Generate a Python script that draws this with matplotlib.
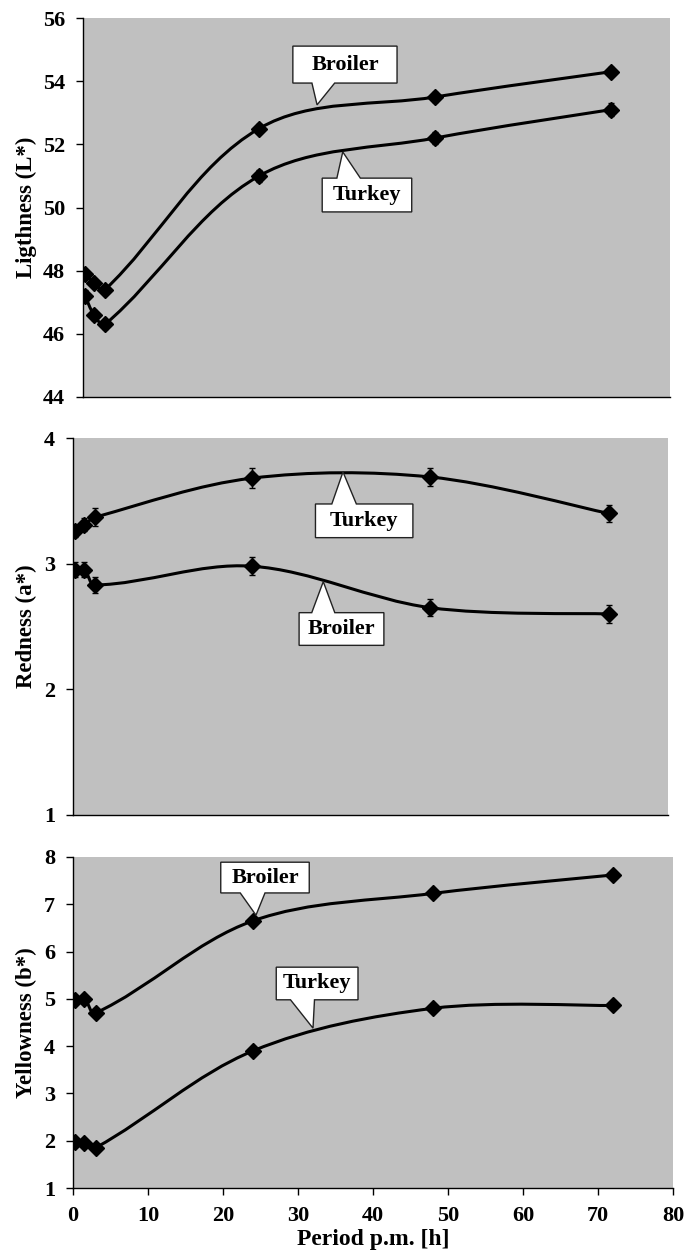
import numpy as np
import matplotlib
matplotlib.use("Agg")
import matplotlib.pyplot as plt
from matplotlib.path import Path
from matplotlib.patches import PathPatch, Polygon

plt.rcParams['font.family'] = ['Liberation Serif', 'DejaVu Serif']
plt.rcParams['font.weight'] = 'bold'

# ---- data ----
hours = [0.3, 1.5, 3, 24, 48, 72]

L_broiler = [47.9, 47.6, 47.4, 52.5, 53.5, 54.3]
L_broiler_err = [0.12, 0.12, 0.12, 0.15, 0.15, 0.15]
L_turkey = [47.2, 46.6, 46.3, 51.0, 52.2, 53.1]
L_turkey_err = [0.2, 0.15, 0.15, 0.2, 0.2, 0.2]

a_turkey = [3.26, 3.31, 3.37, 3.68, 3.69, 3.40]
a_turkey_err = [0.05, 0.05, 0.07, 0.08, 0.075, 0.07]
a_broiler = [2.95, 2.95, 2.83, 2.98, 2.65, 2.60]
a_broiler_err = [0.06, 0.06, 0.06, 0.07, 0.065, 0.07]

b_broiler = [4.98, 5.0, 4.70, 6.65, 7.23, 7.62]
b_broiler_err = [0.05, 0.05, 0.05, 0.05, 0.05, 0.05]
b_turkey = [1.98, 1.95, 1.85, 3.90, 4.80, 4.86]
b_turkey_err = [0.05, 0.05, 0.05, 0.05, 0.05, 0.05]

x_ticks = [0, 10, 20, 30, 40, 50, 60, 70, 80]
L_ticks = [44, 46, 48, 50, 52, 54, 56]
a_ticks = [1, 2, 3, 4]
b_ticks = [1, 2, 3, 4, 5, 6, 7, 8]

W, H = 696, 1251
fig = plt.figure(figsize=(W / 100, H / 100), dpi=100)


def px_axes(left, right, top, bottom):
    return fig.add_axes([left / W, 1 - bottom / H, (right - left) / W, (bottom - top) / H])


def smooth_line(ax, x, y):
    """Smoothed line drawn as cubic Bezier segments (chord-scaled Catmull-Rom tangents
    computed in screen proportions, so short segments do not loop)."""
    pos = ax.get_position()
    x0, x1 = ax.get_xlim()
    y0, y1 = ax.get_ylim()
    sx = pos.width * W / (x1 - x0)
    sy = pos.height * H / (y1 - y0)
    s = np.array([sx, sy])
    P = np.column_stack([x, y]).astype(float) * s
    n = len(P)
    tang = []
    for i in range(n):
        if i == 0:
            d = P[1] - P[0]
        elif i == n - 1:
            d = P[-1] - P[-2]
        else:
            d = P[i + 1] - P[i - 1]
        tang.append(d / np.linalg.norm(d))
    verts = [P[0]]
    codes = [Path.MOVETO]
    for i in range(n - 1):
        L = np.linalg.norm(P[i + 1] - P[i])
        k1 = L / 6.0 if i == 0 else L / 3.0
        k2 = L / 6.0 if i + 1 == n - 1 else L / 3.0
        c1 = P[i] + tang[i] * k1
        c2 = P[i + 1] - tang[i + 1] * k2
        verts += [c1, c2, P[i + 1]]
        codes += [Path.CURVE4] * 3
    verts = np.array(verts) / s
    ax.add_patch(PathPatch(Path(verts, codes), facecolor='none', edgecolor='black',
                           lw=2.2, zorder=3, capstyle='round', joinstyle='round'))


def series(ax, x, y, err):
    smooth_line(ax, x, y)
    ax.errorbar(x, y, yerr=err, fmt='none', ecolor='black', elinewidth=1.0,
                capsize=2.5, capthick=1.0, zorder=4)
    ax.plot(x, y, linestyle='none', marker='D', markersize=8.5, color='black', zorder=5)


def callout(ax, text, box, base, tip, fs=16):
    x0, x1, y0, y1 = box  # y0 bottom, y1 top
    bx0, bx1 = base
    tx, ty = tip
    if ty < y0:  # pointer down
        verts = [(x0, y1), (x1, y1), (x1, y0), (bx1, y0), (tx, ty), (bx0, y0), (x0, y0)]
    else:  # pointer up
        verts = [(x0, y0), (x1, y0), (x1, y1), (bx1, y1), (tx, ty), (bx0, y1), (x0, y1)]
    ax.add_patch(Polygon(verts, closed=True, facecolor='white', edgecolor='#222222',
                         lw=1.0, zorder=6))
    ax.text((x0 + x1) / 2, (y0 + y1) / 2, text, ha='center', va='center',
            fontsize=fs, fontweight='bold', zorder=7)


def style(ax, ylim, yticks, ylabel, show_x):
    ax.set_facecolor('#C0C0C0')
    ax.set_xlim(0, 80)
    ax.set_ylim(*ylim)
    ax.set_yticks(yticks)
    ax.set_yticklabels([str(t) for t in yticks])
    for s in ('top', 'right'):
        ax.spines[s].set_visible(False)
    for s in ('left', 'bottom'):
        ax.spines[s].set_color('black')
        ax.spines[s].set_linewidth(1.0)
    ax.tick_params(axis='y', direction='out', length=5, width=1, pad=8, labelsize=16)
    if show_x:
        ax.set_xticks(x_ticks)
        ax.set_xticklabels([str(t) for t in x_ticks])
        ax.tick_params(axis='x', direction='out', length=5, width=1, pad=8, labelsize=16)
    else:
        ax.set_xticks([])
    for lab in ax.get_xticklabels() + ax.get_yticklabels():
        lab.set_fontweight('bold')
    ax.set_ylabel(ylabel, fontsize=16.5, fontweight='bold')
    pos = ax.get_position()
    ax.yaxis.set_label_coords((37 / W - pos.x0) / pos.width, 0.5)


# ---- top panel: Lightness ----
ax1 = px_axes(83, 670, 18, 397)
style(ax1, (44, 56), L_ticks, 'Ligthness (L*)', False)
series(ax1, hours, L_broiler, L_broiler_err)
series(ax1, hours, L_turkey, L_turkey_err)
callout(ax1, 'Broiler', (28.6, 42.8, 53.94, 55.11), (31.2, 34.3), (31.9, 53.25))
callout(ax1, 'Turkey', (32.6, 44.8, 49.86, 50.93), (34.6, 37.8), (35.4, 51.76))

# ---- middle panel: Redness ----
ax2 = px_axes(73, 668, 438, 815)
style(ax2, (1, 4), a_ticks, 'Redness (a*)', False)
series(ax2, hours, a_turkey, a_turkey_err)
series(ax2, hours, a_broiler, a_broiler_err)
callout(ax2, 'Turkey', (32.6, 45.7, 3.207, 3.475), (34.8, 38.1), (36.3, 3.73))
callout(ax2, 'Broiler', (30.4, 41.8, 2.35, 2.61), (32.1, 35.2), (33.65, 2.857))

# ---- bottom panel: Yellowness ----
ax3 = px_axes(73, 673, 857, 1188)
style(ax3, (1, 8), b_ticks, 'Yellowness (b*)', True)
series(ax3, hours, b_broiler, b_broiler_err)
series(ax3, hours, b_turkey, b_turkey_err)
callout(ax3, 'Broiler', (19.7, 31.5, 7.24, 7.89), (22.3, 25.6), (24.4, 6.77))
callout(ax3, 'Turkey', (27.1, 38.0, 4.98, 5.67), (29.0, 32.2), (32.0, 4.38))
ax3.set_xlabel('Period p.m. [h]', fontsize=17, fontweight='bold', labelpad=2)

fig.savefig('out.png', dpi=100)
